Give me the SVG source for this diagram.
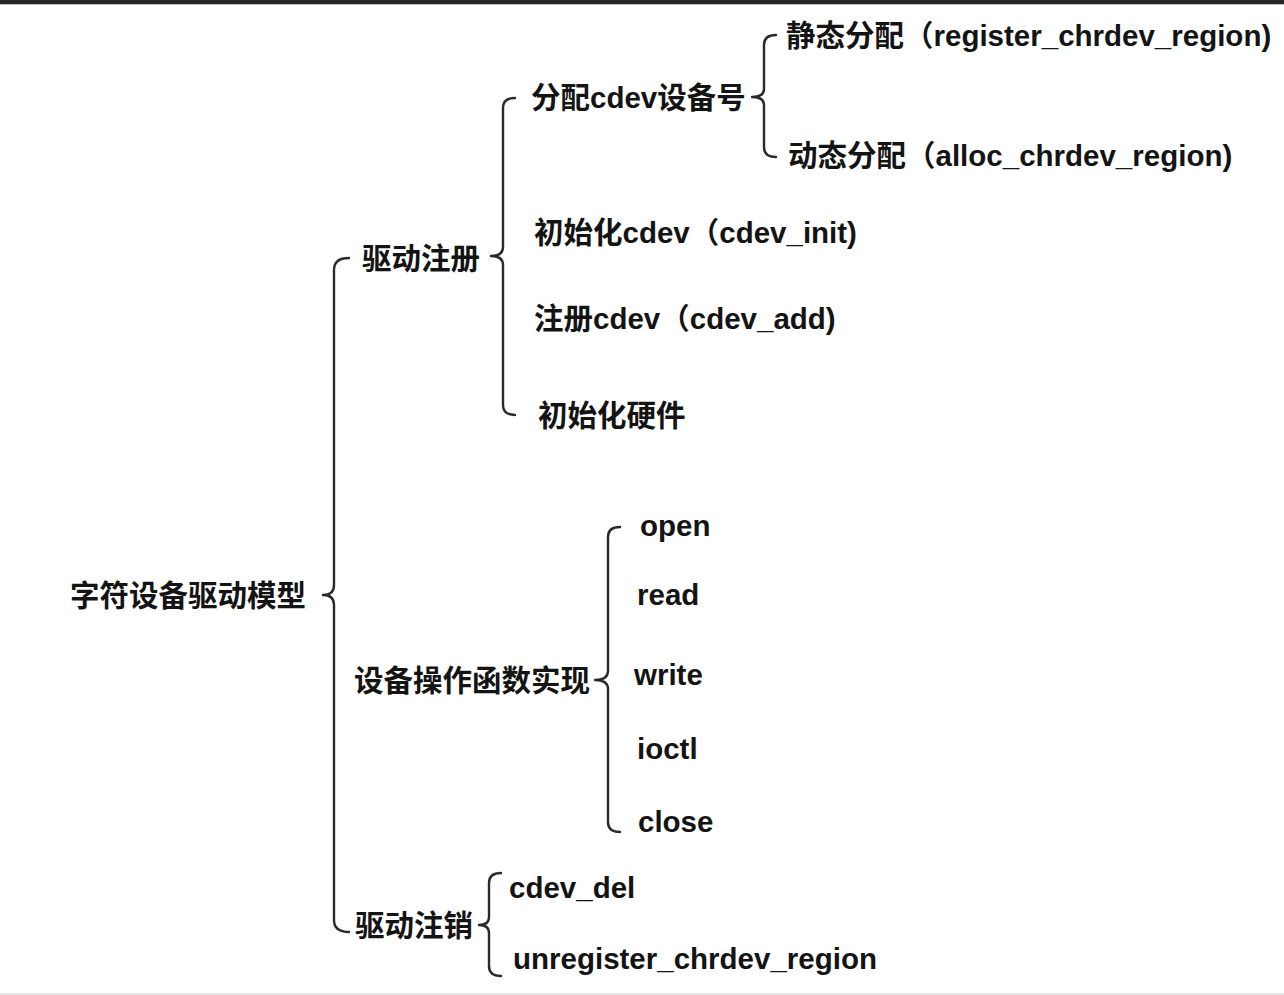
<svg xmlns="http://www.w3.org/2000/svg" width="1284" height="995" viewBox="0 0 1284 995">
<style>
text{font-family:"Liberation Sans","Noto Sans CJK SC",sans-serif;font-weight:bold;font-size:29.5px;fill:#141414}
.brace{fill:none;stroke:#2a2a2a;stroke-width:2.4;stroke-linecap:round;stroke-linejoin:round}
</style>
<rect x="0" y="0" width="1284" height="995" fill="#ffffff"/>
<rect x="0" y="0" width="1284" height="4" fill="#262626"/>
<line x1="0" y1="4.5" x2="1284" y2="4.5" stroke="#bdbdbd" stroke-width="1"/>
<rect x="0" y="993" width="1284" height="2" fill="#e6e6e6"/>
<g id="connectors">
<path class="brace" d="M349 258 Q334 258 334 270 L334 585 Q334 595 323 595 Q334 595 334 605 L334 920 Q334 932 349 932"/>
<path class="brace" d="M515 98 Q503 98 503 108 L503 247 Q503 256 491 256 Q503 256 503 265 L503 405 Q503 415 515 415"/>
<path class="brace" d="M776 35 Q764 35 764 45 L764 89 Q764 97 752 97 Q764 97 764 105 L764 147 Q764 157 776 157"/>
<path class="brace" d="M620 527 Q608 527 608 537 L608 671 Q608 680 595 680 Q608 680 608 689 L608 822 Q608 832 620 832"/>
<path class="brace" d="M501 873 Q489 873 489 883 L489 917 Q489 925 479 925 Q489 925 489 933 L489 966 Q489 976 501 976"/>
</g>
<g id="root"><text x="70" y="606">字符设备驱动模型</text></g>
<g id="register"><text x="362" y="269">驱动注册</text></g>
<g id="alloc-num"><text x="531" y="108">分配cdev设备号</text></g>
<g id="static-alloc"><text x="786" y="46">静态分配（register_chrdev_region)</text></g>
<g id="dynamic-alloc"><text x="788" y="166">动态分配（alloc_chrdev_region)</text></g>
<g id="cdev-init"><text x="534" y="243">初始化cdev（cdev_init)</text></g>
<g id="cdev-add"><text x="534" y="329">注册cdev（cdev_add)</text></g>
<g id="hw-init"><text x="538" y="426">初始化硬件</text></g>
<g id="ops"><text x="354" y="691">设备操作函数实现</text></g>
<g id="open"><text x="640" y="536">open</text></g>
<g id="read"><text x="637" y="605">read</text></g>
<g id="write"><text x="634" y="685">write</text></g>
<g id="ioctl"><text x="637" y="759">ioctl</text></g>
<g id="close"><text x="638" y="832">close</text></g>
<g id="unregister"><text x="355" y="936">驱动注销</text></g>
<g id="cdev-del"><text x="509" y="898">cdev_del</text></g>
<g id="unreg-region"><text x="513" y="969">unregister_chrdev_region</text></g>
</svg>
